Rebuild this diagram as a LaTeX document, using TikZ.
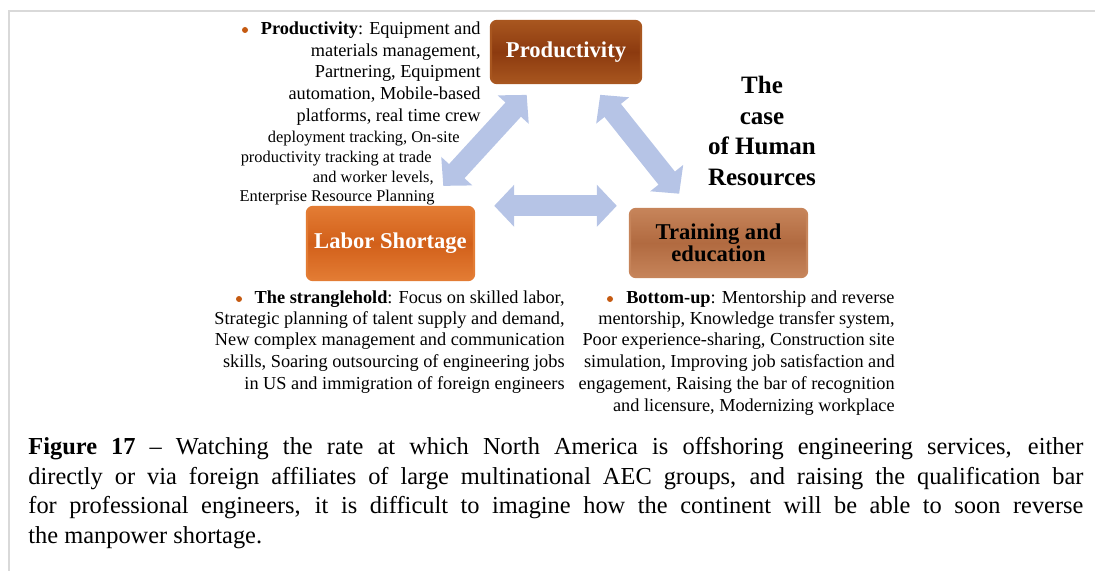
\documentclass[tikz,border=0pt]{standalone}
\usepackage{fontspec}
\setmainfont{Liberation Serif}
\usetikzlibrary{arrows.meta}
\definecolor{prodc}{HTML}{8C3A0F}
\definecolor{prode}{HTML}{A8561F}
\definecolor{laborc}{HTML}{D2601A}
\definecolor{labore}{HTML}{E37C34}
\definecolor{trainc}{HTML}{B16A40}
\definecolor{traine}{HTML}{C6845A}
\definecolor{arrowc}{HTML}{B6C4E6}
\definecolor{bulletc}{HTML}{C55A11}
\definecolor{framec}{HTML}{D9D9D9}
\begin{document}
\begin{tikzpicture}[x=0.5pt,y=-0.5pt,
  box/.style={rounded corners=3pt, line width=1.2pt, inner sep=0pt, align=center,
    font=\bfseries\fontsize{11.3}{11}\selectfont},
  boxcol/.style={draw=#1e, top color=#1e, bottom color=#1e, middle color=#1c},
  blockarrow/.style={draw=arrowc, line width=10.5pt,
    {Triangle[length=10pt,width=20.5pt]}-{Triangle[length=10pt,width=20.5pt]}},
  txt/.style={inner sep=0pt, anchor=mid east, font=\fontsize{9.15}{10.75}\selectfont},
  txts/.style={txt, font=\fontsize{8.2}{10}\selectfont},
  bul/.style={circle, fill=bulletc, inner sep=0pt, minimum size=3pt}
]
\useasboundingbox (0,0) rectangle (1095,571);
\draw[framec, line width=1pt] (9,571) -- (9,11) -- (1095,11);

% boxes
\node[box, boxcol=prod, text=white, minimum width=75pt, minimum height=31pt] (prod) at (566,52) {Productivity};
\node[box, boxcol=labor, text=white, minimum width=83.5pt, minimum height=36.5pt] (labor) at (390.5,243.5) {Labor Shortage};
\node[box, boxcol=train, text=black, minimum width=88.5pt, minimum height=34pt] (train) at (718.5,243) {Training and\\education};

% title
\node[align=center, inner sep=0pt, font=\bfseries\fontsize{12.5}{15.35}\selectfont] (title) at (762,131) {The\\case\\of Human\\Resources};

% arrows
\draw[blockarrow, shorten <=13.5pt, shorten >=7.25pt] (labor) -- (prod);
\draw[blockarrow, shorten <=6.8pt, shorten >=9pt] (prod) -- (train);
\draw[blockarrow, shorten <=9.5pt, shorten >=6pt] (labor.north east) -- (labor.north east -| train.west);

% top-left text
\node[bul] (b1) at (245,30) {};
\node[txt] (t1) at (481,30) {\textbf{Productivity}: Equipment and};
\node[txt] (t2) at (481,51.5) {materials management,};
\node[txt] (t3) at (481,73) {Partnering, Equipment};
\node[txt] (t4) at (481,95) {automation, Mobile-based};
\node[txt] (t5) at (481,117) {platforms, real time crew};
\node[txts] (t6) at (460,138) {deployment tracking, On-site};
\node[txts] (t7) at (432,158) {productivity tracking at trade};
\node[txts] (t8) at (434,178) {and worker levels,};
\node[txts] (t9) at (435,197) {Enterprise Resource Planning};

% bottom-left text
\node[bul] (b2) at (239,299) {};
\node[txt] (l1) at (565,299) {\textbf{The stranglehold}: Focus on skilled labor,};
\node[txt] (l2) at (565,320) {Strategic planning of talent supply and demand,};
\node[txt] (l3) at (565,341) {New complex management and communication};
\node[txt] (l4) at (565,363) {skills, Soaring outsourcing of engineering jobs};
\node[txt] (l5) at (565,385) {in US and immigration of foreign engineers};

% bottom-right text
\node[bul] (b3) at (610,299) {};
\node[txt] (r1) at (895,299) {\textbf{Bottom-up}: Mentorship and reverse};
\node[txt] (r2) at (895,320) {mentorship, Knowledge transfer system,};
\node[txt] (r3) at (895,341) {Poor experience-sharing, Construction site};
\node[txt] (r4) at (895,363) {simulation, Improving job satisfaction and};
\node[txt] (r5) at (895,385) {engagement, Raising the bar of recognition};
\node[txt] (r6) at (895,407) {and licensure, Modernizing workplace};

% caption
\node[anchor=north west, inner sep=0pt, text width=527.5pt, align=justify,
  font=\fontsize{12.2}{14.75}\selectfont] (cap) at (28,437)
  {\hyphenpenalty=10000\exhyphenpenalty=10000
  \textbf{Figure 17} -- Watching the rate at which North America is offshoring engineering services, either\linebreak
  directly or via foreign affiliates of large multinational AEC groups, and raising the qualification bar\linebreak
  for professional engineers, it is difficult to imagine how the continent will be able to soon reverse\linebreak
  the manpower shortage.};
\end{tikzpicture}
\end{document}
